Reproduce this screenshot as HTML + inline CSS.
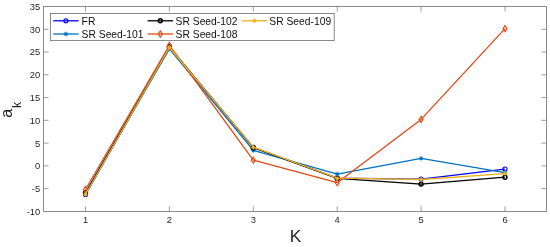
<!DOCTYPE html>
<html><head><meta charset="utf-8"><title>a_k vs K</title>
<style>
html,body{margin:0;padding:0;background:#fff}
svg{display:block}
text{font-family:"Liberation Sans",Arial,Helvetica,sans-serif;fill:#262626}
.tl{font-size:9.4px}
.lg{font-size:10.3px;fill:#111}
</style></head><body>
<svg width="550" height="247" viewBox="0 0 550 247">
<rect width="550" height="247" fill="#fff"/>
<g stroke="#6e6e6e" stroke-width="0.8" fill="none">
<rect x="43.6" y="6.5" width="502.8" height="204.9"/>
<path d="M85.5 211.4v-5M85.5 6.5v5" stroke="#5c5c5c" stroke-width="0.6"/>
<path d="M169.4 211.4v-5M169.4 6.5v5" stroke="#5c5c5c" stroke-width="0.6"/>
<path d="M253.3 211.4v-5M253.3 6.5v5" stroke="#5c5c5c" stroke-width="0.6"/>
<path d="M337.2 211.4v-5M337.2 6.5v5" stroke="#5c5c5c" stroke-width="0.6"/>
<path d="M421.1 211.4v-5M421.1 6.5v5" stroke="#5c5c5c" stroke-width="0.6"/>
<path d="M505.0 211.4v-5M505.0 6.5v5" stroke="#5c5c5c" stroke-width="0.6"/>
<path d="M43.6 188.6h5M546.4 188.6h-5" stroke="#5c5c5c" stroke-width="0.6"/>
<path d="M43.6 165.9h5M546.4 165.9h-5" stroke="#5c5c5c" stroke-width="0.6"/>
<path d="M43.6 143.1h5M546.4 143.1h-5" stroke="#5c5c5c" stroke-width="0.6"/>
<path d="M43.6 120.3h5M546.4 120.3h-5" stroke="#5c5c5c" stroke-width="0.6"/>
<path d="M43.6 97.6h5M546.4 97.6h-5" stroke="#5c5c5c" stroke-width="0.6"/>
<path d="M43.6 74.8h5M546.4 74.8h-5" stroke="#5c5c5c" stroke-width="0.6"/>
<path d="M43.6 52.0h5M546.4 52.0h-5" stroke="#5c5c5c" stroke-width="0.6"/>
<path d="M43.6 29.3h5M546.4 29.3h-5" stroke="#5c5c5c" stroke-width="0.6"/>
</g>
<text class="tl" x="85.5" y="223" text-anchor="middle">1</text>
<text class="tl" x="169.4" y="223" text-anchor="middle">2</text>
<text class="tl" x="253.3" y="223" text-anchor="middle">3</text>
<text class="tl" x="337.2" y="223" text-anchor="middle">4</text>
<text class="tl" x="421.1" y="223" text-anchor="middle">5</text>
<text class="tl" x="505.0" y="223" text-anchor="middle">6</text>
<text class="tl" x="40.2" y="214.8" text-anchor="end">-10</text>
<text class="tl" x="40.2" y="192.0" text-anchor="end">-5</text>
<text class="tl" x="40.2" y="169.3" text-anchor="end">0</text>
<text class="tl" x="40.2" y="146.5" text-anchor="end">5</text>
<text class="tl" x="40.2" y="123.7" text-anchor="end">10</text>
<text class="tl" x="40.2" y="101.0" text-anchor="end">15</text>
<text class="tl" x="40.2" y="78.2" text-anchor="end">20</text>
<text class="tl" x="40.2" y="55.4" text-anchor="end">25</text>
<text class="tl" x="40.2" y="32.7" text-anchor="end">30</text>
<text class="tl" x="40.2" y="9.9" text-anchor="end">35</text>
<text x="295.5" y="242" text-anchor="middle" style="font-size:17.3px">K</text>
<text transform="translate(12.4,117.7) rotate(-90)" style="font-size:16px">a<tspan dx="0.8" dy="8.6" style="font-size:12.5px">k</tspan></text>
<polyline points="85.5,194.6 169.4,47.5 253.3,147.4 337.2,178.2 421.1,179.1 505.0,169.1" fill="none" stroke="#0000ff" stroke-width="1.3" stroke-linejoin="round"/>
<circle cx="85.5" cy="194.6" r="2.05" fill="none" stroke="#0000ff" stroke-width="1.1"/>
<circle cx="169.4" cy="47.5" r="2.05" fill="none" stroke="#0000ff" stroke-width="1.1"/>
<circle cx="253.3" cy="147.4" r="2.05" fill="none" stroke="#0000ff" stroke-width="1.1"/>
<circle cx="337.2" cy="178.2" r="2.05" fill="none" stroke="#0000ff" stroke-width="1.1"/>
<circle cx="421.1" cy="179.1" r="2.05" fill="none" stroke="#0000ff" stroke-width="1.1"/>
<circle cx="505.0" cy="169.1" r="2.05" fill="none" stroke="#0000ff" stroke-width="1.1"/>
<polyline points="85.5,193.6 169.4,48.8 253.3,150.4 337.2,174.1 421.1,158.4 505.0,172.7" fill="none" stroke="#0072bd" stroke-width="1.3" stroke-linejoin="round"/>
<circle cx="85.5" cy="193.6" r="1.5" fill="#0072bd"/><path d="M85.5 191.1v5M83.0 193.6h5M83.75 191.89l3.5 3.5M83.75 195.39l3.5 -3.5" stroke="#0072bd" stroke-width="0.75" fill="none"/>
<circle cx="169.4" cy="48.8" r="1.5" fill="#0072bd"/><path d="M169.4 46.3v5M166.9 48.8h5M167.65 47.10l3.5 3.5M167.65 50.60l3.5 -3.5" stroke="#0072bd" stroke-width="0.75" fill="none"/>
<circle cx="253.3" cy="150.4" r="1.5" fill="#0072bd"/><path d="M253.3 147.9v5M250.8 150.4h5M251.55 148.64l3.5 3.5M251.55 152.14l3.5 -3.5" stroke="#0072bd" stroke-width="0.75" fill="none"/>
<circle cx="337.2" cy="174.1" r="1.5" fill="#0072bd"/><path d="M337.2 171.6v5M334.7 174.1h5M335.45 172.31l3.5 3.5M335.45 175.81l3.5 -3.5" stroke="#0072bd" stroke-width="0.75" fill="none"/>
<circle cx="421.1" cy="158.4" r="1.5" fill="#0072bd"/><path d="M421.1 155.9v5M418.6 158.4h5M419.35 156.60l3.5 3.5M419.35 160.10l3.5 -3.5" stroke="#0072bd" stroke-width="0.75" fill="none"/>
<circle cx="505.0" cy="172.7" r="1.5" fill="#0072bd"/><path d="M505.0 170.2v5M502.5 172.7h5M503.25 170.95l3.5 3.5M503.25 174.45l3.5 -3.5" stroke="#0072bd" stroke-width="0.75" fill="none"/>
<polyline points="85.5,192.7 169.4,46.8 253.3,147.7 337.2,178.4 421.1,184.1 505.0,177.2" fill="none" stroke="#000000" stroke-width="1.3" stroke-linejoin="round"/>
<circle cx="85.5" cy="192.7" r="1.95" fill="none" stroke="#000000" stroke-width="1.5"/>
<circle cx="169.4" cy="46.8" r="1.95" fill="none" stroke="#000000" stroke-width="1.5"/>
<circle cx="253.3" cy="147.7" r="1.95" fill="none" stroke="#000000" stroke-width="1.5"/>
<circle cx="337.2" cy="178.4" r="1.95" fill="none" stroke="#000000" stroke-width="1.5"/>
<circle cx="421.1" cy="184.1" r="1.95" fill="none" stroke="#000000" stroke-width="1.5"/>
<circle cx="505.0" cy="177.2" r="1.95" fill="none" stroke="#000000" stroke-width="1.5"/>
<polyline points="85.5,189.5 169.4,45.4 253.3,160.2 337.2,182.7 421.1,119.4 505.0,28.6" fill="none" stroke="#e04a12" stroke-width="1.3" stroke-linejoin="round"/>
<path d="M85.5 186.4L87.5 189.5L85.5 192.6L83.5 189.5Z" fill="none" stroke="#e04a12" stroke-width="1.15"/>
<path d="M169.4 42.3L171.4 45.4L169.4 48.5L167.4 45.4Z" fill="none" stroke="#e04a12" stroke-width="1.15"/>
<path d="M253.3 157.1L255.3 160.2L253.3 163.3L251.3 160.2Z" fill="none" stroke="#e04a12" stroke-width="1.15"/>
<path d="M337.2 179.6L339.2 182.7L337.2 185.8L335.2 182.7Z" fill="none" stroke="#e04a12" stroke-width="1.15"/>
<path d="M421.1 116.3L423.1 119.4L421.1 122.5L419.1 119.4Z" fill="none" stroke="#e04a12" stroke-width="1.15"/>
<path d="M505.0 25.5L507.0 28.6L505.0 31.7L503.0 28.6Z" fill="none" stroke="#e04a12" stroke-width="1.15"/>
<polyline points="85.5,194.3 169.4,47.5 253.3,147.2 337.2,178.2 421.1,179.5 505.0,173.6" fill="none" stroke="#edb120" stroke-width="1.3" stroke-linejoin="round"/>
<circle cx="85.5" cy="194.3" r="1.5" fill="#edb120"/><path d="M85.5 191.8v5M83.0 194.3h5M83.75 192.57l3.5 3.5M83.75 196.07l3.5 -3.5" stroke="#edb120" stroke-width="0.75" fill="none"/>
<circle cx="169.4" cy="47.5" r="1.5" fill="#edb120"/><path d="M169.4 45.0v5M166.9 47.5h5M167.65 45.73l3.5 3.5M167.65 49.23l3.5 -3.5" stroke="#edb120" stroke-width="0.75" fill="none"/>
<circle cx="253.3" cy="147.2" r="1.5" fill="#edb120"/><path d="M253.3 144.7v5M250.8 147.2h5M251.55 145.45l3.5 3.5M251.55 148.95l3.5 -3.5" stroke="#edb120" stroke-width="0.75" fill="none"/>
<circle cx="337.2" cy="178.2" r="1.5" fill="#edb120"/><path d="M337.2 175.7v5M334.7 178.2h5M335.45 176.41l3.5 3.5M335.45 179.91l3.5 -3.5" stroke="#edb120" stroke-width="0.75" fill="none"/>
<circle cx="421.1" cy="179.5" r="1.5" fill="#edb120"/><path d="M421.1 177.0v5M418.6 179.5h5M419.35 177.78l3.5 3.5M419.35 181.28l3.5 -3.5" stroke="#edb120" stroke-width="0.75" fill="none"/>
<circle cx="505.0" cy="173.6" r="1.5" fill="#edb120"/><path d="M505.0 171.1v5M502.5 173.6h5M503.25 171.86l3.5 3.5M503.25 175.36l3.5 -3.5" stroke="#edb120" stroke-width="0.75" fill="none"/>
<rect x="50.4" y="13.5" width="283.8" height="27.1" fill="#fff" stroke="#6e6e6e" stroke-width="0.8"/>
<path d="M53.2 20.8h25.4" stroke="#0000ff" stroke-width="1.3"/>
<circle cx="65.9" cy="20.8" r="2.05" fill="none" stroke="#0000ff" stroke-width="1.1"/>
<text class="lg" x="81.6" y="24.5">FR</text>
<path d="M53.2 34.0h25.4" stroke="#0072bd" stroke-width="1.3"/>
<circle cx="65.9" cy="34.0" r="1.5" fill="#0072bd"/><path d="M65.9 31.5v5M63.4 34.0h5M64.15 32.25l3.5 3.5M64.15 35.75l3.5 -3.5" stroke="#0072bd" stroke-width="0.75" fill="none"/>
<text class="lg" x="81.6" y="37.7">SR Seed-101</text>
<path d="M147.6 20.8h25.4" stroke="#000000" stroke-width="1.3"/>
<circle cx="160.3" cy="20.8" r="1.95" fill="none" stroke="#000000" stroke-width="1.5"/>
<text class="lg" x="175.6" y="24.5">SR Seed-102</text>
<path d="M147.6 34.0h25.4" stroke="#e04a12" stroke-width="1.3"/>
<path d="M160.3 30.9L162.3 34.0L160.3 37.1L158.3 34.0Z" fill="none" stroke="#e04a12" stroke-width="1.15"/>
<text class="lg" x="175.6" y="37.7">SR Seed-108</text>
<path d="M241.8 20.8h25.4" stroke="#edb120" stroke-width="1.3"/>
<circle cx="254.5" cy="20.8" r="1.5" fill="#edb120"/><path d="M254.5 18.3v5M252.0 20.8h5M252.75 19.05l3.5 3.5M252.75 22.55l3.5 -3.5" stroke="#edb120" stroke-width="0.75" fill="none"/>
<text class="lg" x="269.3" y="24.5">SR Seed-109</text>
</svg></body></html>
